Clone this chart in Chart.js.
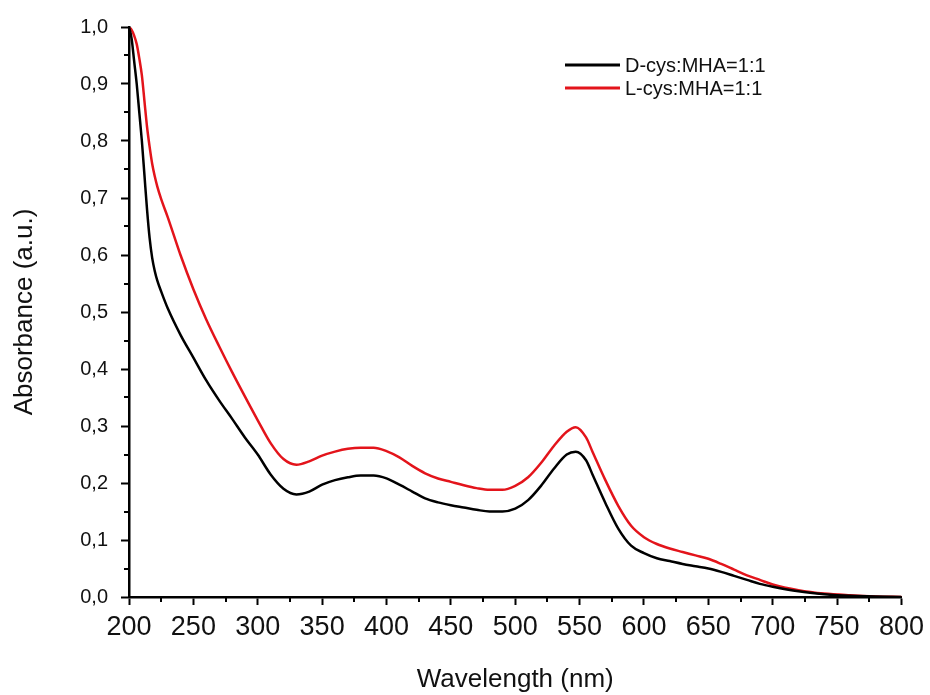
<!DOCTYPE html>
<html>
<head>
<meta charset="utf-8">
<script src="https://cdn.jsdelivr.net/npm/chart.js@4/dist/chart.umd.min.js"></script>
<style>
html,body{margin:0;padding:0;background:#fff;}
#wrap{width:930px;height:695px;position:relative;}
</style>
</head>
<body>
<div id="wrap"><canvas id="c" width="930" height="695"></canvas></div>
<script>
const wavelengths = [200,202,204,206,208,210,212,214,216,218,220,222,225,230,240,250,260,270,280,290,300,310,320,330,340,350,360,370,380,390,400,410,420,430,440,450,460,470,480,490,500,510,520,530,540,547,555,560,570,580,590,600,610,620,630,640,650,660,670,680,690,700,720,740,760,780,800];
const dCys = [1.0,0.98,0.94,0.90,0.85,0.80,0.74,0.68,0.63,0.595,0.572,0.555,0.536,0.507,0.46,0.42,0.38,0.345,0.313,0.28,0.25,0.215,0.19,0.18,0.185,0.197,0.205,0.21,0.213,0.213,0.208,0.197,0.185,0.173,0.166,0.161,0.157,0.153,0.15,0.15,0.155,0.17,0.195,0.225,0.25,0.255,0.24,0.215,0.165,0.12,0.09,0.077,0.068,0.063,0.058,0.054,0.05,0.044,0.037,0.03,0.023,0.018,0.01,0.005,0.002,0.001,0.0];
const lCys = [1.0,0.995,0.985,0.97,0.945,0.915,0.87,0.825,0.79,0.76,0.738,0.72,0.698,0.667,0.60,0.54,0.487,0.44,0.395,0.352,0.31,0.27,0.242,0.232,0.238,0.248,0.255,0.26,0.262,0.262,0.256,0.245,0.23,0.217,0.208,0.202,0.196,0.191,0.188,0.188,0.195,0.21,0.235,0.265,0.29,0.298,0.28,0.255,0.205,0.16,0.125,0.105,0.093,0.085,0.079,0.073,0.067,0.058,0.048,0.038,0.03,0.022,0.012,0.006,0.003,0.001,0.0];
const seriesLabels = ['D-cys:MHA=1:1','L-cys:MHA=1:1'];
const xTitle = 'Wavelength (nm)';
const yTitle = 'Absorbance (a.u.)';

const FONT = "'Liberation Sans', Arial, sans-serif";
const RED = '#e3141b';

const minorTicks = {
  id: 'minorTicks',
  afterDraw(chart) {
    const ctx = chart.ctx;
    const xs = chart.scales.x, ys = chart.scales.y;
    ctx.save();
    ctx.strokeStyle = '#000';
    ctx.lineWidth = 2;
    for (let v = 225; v < 800; v += 50) {
      const px = Math.round(xs.getPixelForValue(v));
      ctx.beginPath(); ctx.moveTo(px, ys.bottom); ctx.lineTo(px, ys.bottom + 5); ctx.stroke();
    }
    for (let i = 0; i < 10; i++) {
      const v = 0.05 + i * 0.1;
      const py = Math.round(ys.getPixelForValue(v));
      ctx.beginPath(); ctx.moveTo(xs.left, py); ctx.lineTo(xs.left - 5, py); ctx.stroke();
    }
    ctx.restore();
  }
};

const customLegend = {
  id: 'customLegend',
  afterDraw(chart) {
    const ctx = chart.ctx;
    const a = chart.chartArea;
    ctx.save();
    ctx.font = '20px ' + FONT;
    ctx.textBaseline = 'middle';
    ctx.textAlign = 'left';
    chart.data.datasets.forEach((ds, i) => {
      const y = a.top + 38 + i * 23;
      const x0 = a.left + 436;
      ctx.strokeStyle = ds.borderColor;
      ctx.lineWidth = 3;
      ctx.beginPath(); ctx.moveTo(x0, y); ctx.lineTo(x0 + 55, y); ctx.stroke();
      ctx.fillStyle = '#111';
      ctx.fillText(ds.label, x0 + 60, y + 1);
    });
    ctx.restore();
  }
};

new Chart(document.getElementById('c'), {
  type: 'line',
  data: {
    labels: wavelengths,
    datasets: [
      { label: seriesLabels[0], data: wavelengths.map((w, i) => ({x: w, y: dCys[i]})), borderColor: '#000', borderWidth: 2.5, pointRadius: 0, cubicInterpolationMode: 'monotone', fill: false },
      { label: seriesLabels[1], data: wavelengths.map((w, i) => ({x: w, y: lCys[i]})), borderColor: RED, borderWidth: 2.5, pointRadius: 0, cubicInterpolationMode: 'monotone', fill: false }
    ]
  },
  options: {
    responsive: false,
    animation: false,
    layout: { padding: { top: 27, right: 25, left: 0, bottom: 0 } },
    plugins: { legend: { display: false }, tooltip: { enabled: false } },
    scales: {
      x: {
        type: 'linear', min: 200, max: 800,
        afterFit(s) { s.height = 98; },
        ticks: { stepSize: 50, color: '#111', font: { family: FONT, size: 27 }, padding: 6, maxRotation: 0, autoSkip: false },
        grid: { drawOnChartArea: false, drawTicks: true, tickLength: 8, tickColor: '#000', tickWidth: 2 },
        border: { color: '#000', width: 2.5 },
        title: { display: true, text: xTitle, color: '#111', font: { family: FONT, size: 26 }, padding: { top: 0, bottom: 0 } }
      },
      y: {
        type: 'linear', min: 0, max: 1,
        afterFit(s) { s.width = 129; },
        ticks: { stepSize: 0.1, color: '#111', font: { family: FONT, size: 20 }, padding: 13,
          callback: v => v.toFixed(1).replace('.', ',') },
        grid: { drawOnChartArea: false, drawTicks: true, tickLength: 8, tickColor: '#000', tickWidth: 2 },
        border: { color: '#000', width: 2.5 },
        title: { display: true, text: yTitle, color: '#111', font: { family: FONT, size: 26 }, padding: { top: 9, bottom: 0 } }
      }
    }
  },
  plugins: [minorTicks, customLegend]
});
</script>
</body>
</html>
